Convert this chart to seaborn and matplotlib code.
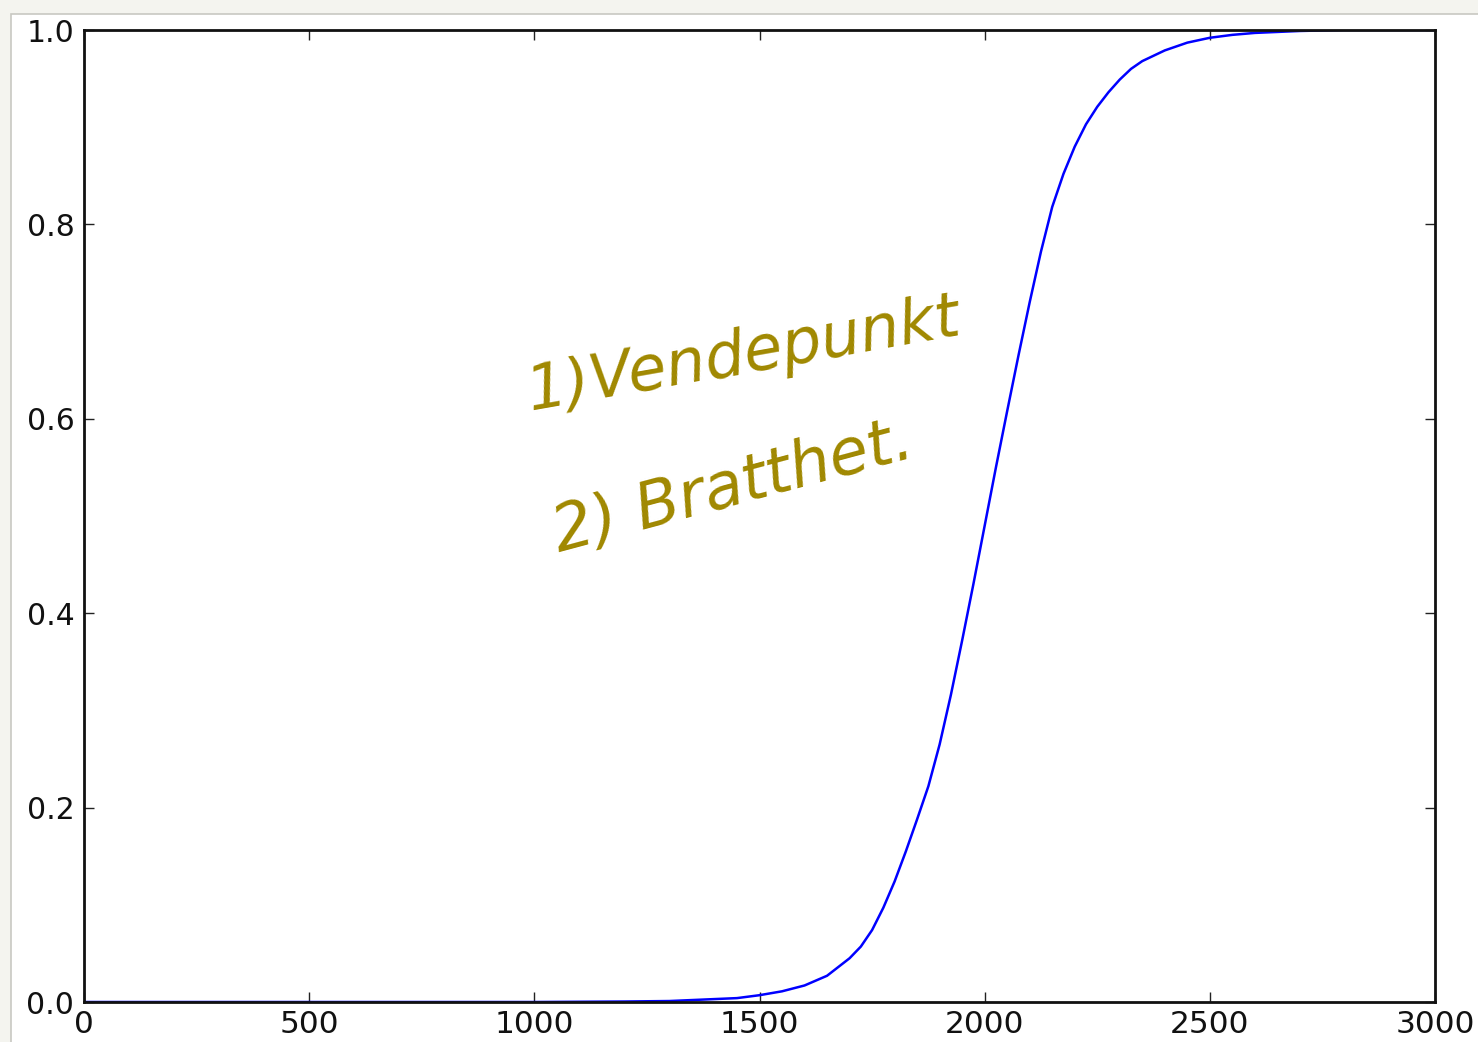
import matplotlib
matplotlib.use("Agg")
import matplotlib.pyplot as plt
from matplotlib.patches import Rectangle
import seaborn as sns
import pandas as pd

# Data
x_values = [0, 1000, 1200, 1300, 1400, 1450, 1500, 1550, 1600, 1650, 1700, 1725,
            1750, 1775, 1800, 1825, 1850, 1875, 1900, 1925, 1950, 1975, 2000,
            2025, 2050, 2075, 2100, 2125, 2150, 2175, 2200, 2225, 2250, 2275,
            2300, 2325, 2350, 2400, 2450, 2500, 2550, 2600, 2700, 2800, 3000]
y_values = [0.0, 0.0, 0.0005, 0.001, 0.003, 0.004, 0.007, 0.011, 0.017, 0.027,
            0.045, 0.057, 0.074, 0.097, 0.124, 0.155, 0.188, 0.222, 0.265, 0.316,
            0.372, 0.430, 0.490, 0.550, 0.608, 0.665, 0.720, 0.772, 0.818, 0.852,
            0.880, 0.903, 0.921, 0.936, 0.949, 0.960, 0.968, 0.979, 0.987, 0.992,
            0.995, 0.997, 0.999, 1.0, 1.0]
x_ticks = [0, 500, 1000, 1500, 2000, 2500, 3000]
y_ticks = [0.0, 0.2, 0.4, 0.6, 0.8, 1.0]
y_ticklabels = ["0.0", "0.2", "0.4", "0.6", "0.8", "1.0"]
notes = ["1)Vendepunkt", "2) Bratthet."]

df = pd.DataFrame({"x": x_values, "y": y_values})

sns.set_style("white")
plt.rcParams['font.family'] = ['DejaVu Sans']

W, H = 1478, 1042
fig = plt.figure(figsize=(W / 100, H / 100), dpi=100)
fig.patch.set_facecolor("#f4f4ef")
bg = Rectangle((10.5 / W, -0.01), 1.0, 1 - 13.5 / H + 0.01,
               transform=fig.transFigure, facecolor="white",
               edgecolor="#c8c8c2", linewidth=1.2, zorder=-10)
fig.patches.append(bg)

ax = fig.add_axes([84 / W, (H - 1002) / H, (1435 - 84) / W, (1002 - 30) / H])
ax.set_zorder(5)
ax.set_facecolor("white")

sns.lineplot(data=df, x="x", y="y", ax=ax, color="#0000ff", linewidth=1.8)

ax.set_xlim(0, 3000)
ax.set_ylim(0, 1)
ax.set_xticks(x_ticks)
ax.set_xticklabels([str(t) for t in x_ticks])
ax.set_yticks(y_ticks)
ax.set_yticklabels(y_ticklabels)
ax.set_xlabel("")
ax.set_ylabel("")

for s in ax.spines.values():
    s.set_visible(True)
    s.set_color("#111111")
    s.set_linewidth(2.0)

ax.tick_params(axis="both", which="major", direction="in", length=7.5, width=1.0,
               color="#222222", labelcolor="#111111",
               top=True, right=True, bottom=True, left=True)
ax.tick_params(axis="y", labelsize=21.5, pad=7)
ax.tick_params(axis="x", labelsize=22.5, pad=6)

gold = "#a08800"
ax.text(1465, 0.665, notes[0], color=gold, fontsize=45, rotation=10,
        ha="center", va="center", rotation_mode="anchor", fontstyle="italic")
ax.text(1440, 0.530, notes[1], color=gold, fontsize=46, rotation=15,
        ha="center", va="center", rotation_mode="anchor", fontstyle="italic")

fig.savefig("out.png", dpi=100, facecolor=fig.get_facecolor())
